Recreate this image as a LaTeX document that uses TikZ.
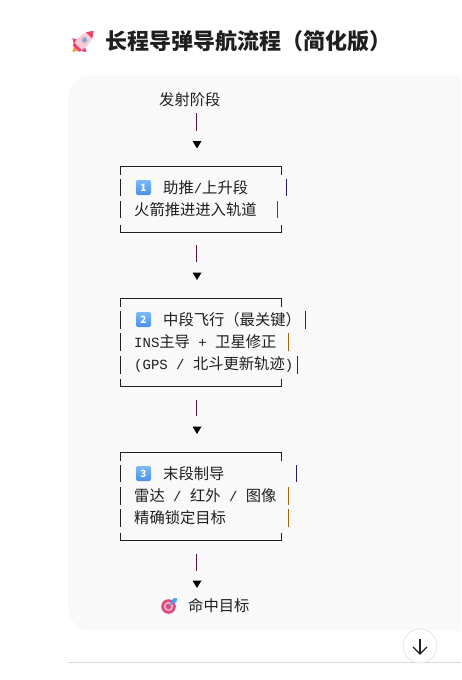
\documentclass[tikz,border=0pt]{standalone}
\usepackage{fontspec}
\setmainfont{Noto Sans CJK SC}
\newfontfamily\mn{Liberation Mono}
\usetikzlibrary{arrows.meta}
\definecolor{ink}{HTML}{1F1F1F}
\definecolor{panelbg}{HTML}{F9F9F9}
\definecolor{barred}{HTML}{5A1040}
\definecolor{barpurple}{HTML}{2E1670}
\definecolor{barorange}{HTML}{A85F0A}
\definecolor{bargreen}{HTML}{1F5A40}
\definecolor{barnavy}{HTML}{1A2A5A}
\definecolor{rktbody}{HTML}{F6CBD8}
\definecolor{rktred}{HTML}{F0416F}
\definecolor{rktflame}{HTML}{F59A3A}
\definecolor{rktglass}{HTML}{6FA8E8}
\definecolor{tgtred}{HTML}{DE4A80}
\definecolor{tgtpale}{HTML}{F3A6C2}
\definecolor{dartblue}{HTML}{45A5EE}
\definecolor{keytop}{HTML}{7DBBF6}
\definecolor{keybot}{HTML}{4A90E8}
\newcommand{\lm}[1]{{\fontsize{14}{16}\selectfont\mn #1}}
\tikzset{
  x=1pt,y=-1pt,
  txt/.style={anchor=west,inner sep=0pt,text=ink,font=\fontsize{15.3}{18}\selectfont},
  frame/.style={draw=ink,line width=1pt},
  bar/.style={line width=1pt},
  link/.style={draw=barred,line width=1pt},
  tip/.style={fill=black,draw=none},
  key/.style={rounded corners=2pt,top color=keytop,bottom color=keybot,draw=none},
  keynum/.style={text=white,inner sep=0pt,font=\fontsize{10}{10}\selectfont\bfseries},
}
\newcommand{\myframe}[2]{% top, bottom
  \draw[frame] (120.5,#1+8) -- (120.5,#1) -- (281.5,#1) -- (281.5,#1+8);
  \draw[frame] (120.5,#2-8) -- (120.5,#2) -- (281.5,#2) -- (281.5,#2-8);
}
\newcommand{\rowbar}[4]{% y1,y2,right x,colour
  \draw[bar,draw=ink] (120.5,#1) -- (120.5,#2);
  \draw[bar,draw=#4] (#3,#1) -- (#3,#2);
}
\newcommand{\keycap}[3]{% name,y,number
  \node[key,minimum size=15pt,inner sep=0pt] (#1) at (143.5,#2) {};
  \node[keynum] at (#1) {#3};
}
\newcommand{\linktri}[5]{% name, y1, y2, tri y1, tri y2
  \coordinate (#1a) at (196.5,#2);
  \coordinate (#1b) at (196.5,#3);
  \draw[link] (#1a) -- (#1b);
  \fill[tip] (192.5,#4) -- (201.5,#4) -- (197,#5) -- cycle;
}
\begin{document}
\begin{tikzpicture}
\useasboundingbox (0,0) rectangle (461,680);
\clip (0,0) rectangle (461,680);
\fill[white] (0,0) rectangle (461,680);

% panel
\fill[panelbg,rounded corners=24pt] (520,75) -- (68,75) -- (68,631) -- (520,631) -- cycle;
\draw[draw=black!15!white,line width=1pt] (68,662.5) -- (461,662.5);

% title
\begin{scope}[shift={(83,41.5)},rotate=45]
  \fill[rktflame] (-15,0) -- (-9,-3.5) -- (-9,3.5) -- cycle;
  \fill[rktred] (-9,-4) -- (-2,-4) -- (-5,-10) -- cycle;
  \fill[rktred] (-9,4) -- (-2,4) -- (-5,10) -- cycle;
  \fill[rktbody] (-10,-4.5) .. controls (0,-7) and (8,-6) .. (15,0) .. controls (8,6) and (0,7) .. (-10,4.5) -- cycle;
  \fill[rktred] (8.5,-4.4) .. controls (11,-3) and (13,-1.5) .. (15,0) .. controls (13,1.5) and (11,3) .. (8.5,4.4) -- cycle;
  \fill[rktred] (-10,-4.5) -- (-7,-5) -- (-7,5) -- (-10,4.5) -- cycle;
  \fill[rktglass,draw=rktbody!70!gray,line width=0.8pt] (2,0) circle[radius=2.6pt];
\end{scope}
\node[anchor=west,inner sep=0pt,text=ink,font=\fontsize{22}{26}\selectfont\bfseries] (title) at (105,41) {长程导弹导航流程（简化版）};

% start
\node[txt] (start) at (159,99.5) {发射阶段};
\linktri{l1}{113}{131}{141}{148.5}

% box 1
\myframe{166.5}{232.5}
\rowbar{179}{196}{286.5}{barpurple}
\rowbar{201}{218}{277.5}{bargreen}
\keycap{k1}{187.5}{1}
\node[txt] (b1a) at (163,187.5) {助推\lm{/}上升段};
\node[txt] (b1b) at (134,209.5) {火箭推进进入轨道};
\linktri{l2}{245}{262}{272.5}{280}

% box 2
\myframe{298.5}{386.5}
\rowbar{311}{329}{305.5}{barnavy}
\rowbar{333}{351}{288.5}{barorange}
\rowbar{356}{374}{297.5}{barnavy}
\keycap{k2}{319.5}{2}
\node[txt] (b2a) at (163,319.5) {中段飞行（最关键）};
\node[txt] (b2b) at (134,342) {\lm{INS}主导\lm{ + }卫星修正};
\node[txt] (b2c) at (134,364.5) {\lm{(GPS / }北斗更新轨迹\lm{)}};
\linktri{l3}{400}{416}{426.5}{434}

% box 3
\myframe{452.5}{540.5}
\rowbar{465}{482}{296.5}{barpurple}
\rowbar{487}{505}{288.5}{barorange}
\rowbar{509}{527}{288.5}{barorange}
\keycap{k3}{473.5}{3}
\node[txt] (b3a) at (163,473.5) {末段制导};
\node[txt] (b3b) at (134,495.5) {雷达\lm{ / }红外\lm{ / }图像};
\node[txt] (b3c) at (134,518) {精确锁定目标};
\linktri{l4}{554}{571}{580.5}{588}

% end
\fill[tgtred] (168.5,606.5) circle[radius=7.3pt];
\fill[tgtpale] (168.5,606.5) circle[radius=4.8pt];
\fill[tgtred] (168.5,606.5) circle[radius=2.6pt];
\draw[dartblue,line width=1.2pt] (169,606) -- (175,600);
\fill[dartblue] (173,598.5) -- (177,598) -- (176.5,602) -- (174,603) -- (172,601) -- cycle;
\node[txt] (goal) at (188,605.5) {命中目标};

% scroll button
\node[circle,draw=black!10!white,fill=white,line width=0.8pt,minimum size=34pt,inner sep=0pt] (scroll) at (420,646) {};
\coordinate (sa) at (420,638.5);
\coordinate (sb) at (420,654);
\draw[ink,line width=1.2pt] (sa) -- (sb);
\draw[ink,line width=1.2pt] (413,647) -- (sb) -- (427,647);
\end{tikzpicture}
\end{document}
